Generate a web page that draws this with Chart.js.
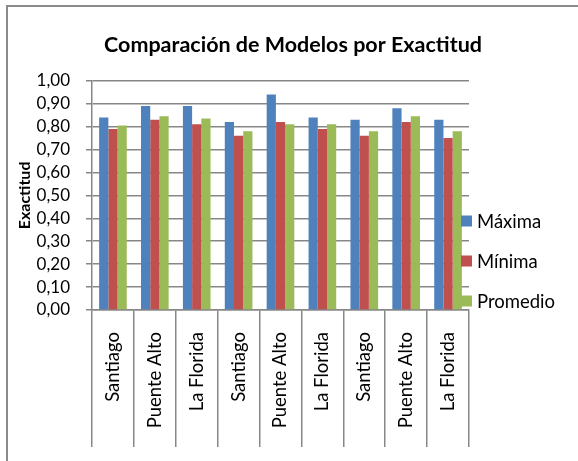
<!DOCTYPE html>
<html>
<head>
<meta charset="utf-8">
<script src="https://cdn.jsdelivr.net/npm/chart.js@4/dist/chart.umd.min.js"></script>
<style>
  html, body { margin: 0; padding: 0; background: #fff; overflow: hidden; }
  #wrap { position: relative; width: 578px; height: 461px; }
  #frame { position: absolute; left: 6px; top: 5px; width: 600px; height: 500px;
           border-top: 2px solid #8a8a8a; border-left: 2px solid #8a8a8a; pointer-events: none; }
</style>
</head>
<body>
<div id="wrap">
  <canvas id="c" width="578" height="461"></canvas>
  <div id="frame"></div>
</div>
<script>
const categories = ['Santiago', 'Puente Alto', 'La Florida', 'Santiago', 'Puente Alto', 'La Florida', 'Santiago', 'Puente Alto', 'La Florida'];
const maxima   = [0.84, 0.89, 0.89, 0.82, 0.94, 0.84, 0.83, 0.88, 0.83];
const minima   = [0.79, 0.83, 0.81, 0.76, 0.82, 0.79, 0.76, 0.82, 0.75];
const promedio = [0.805, 0.845, 0.835, 0.78, 0.81, 0.81, 0.78, 0.845, 0.78];
const seriesNames = ['Máxima', 'Mínima', 'Promedio'];
const yTickLabels = ['0,00', '0,10', '0,20', '0,30', '0,40', '0,50', '0,60', '0,70', '0,80', '0,90', '1,00'];

const FONT = 'Lato';
const GRID = '#878787';

const sideLegend = {
  id: 'sideLegend',
  afterDraw(chart) {
    const ctx = chart.ctx;
    const ys = [221, 261, 301];
    ctx.save();
    ctx.font = '18.5px ' + FONT;
    ctx.textBaseline = 'middle';
    ctx.textAlign = 'left';
    chart.data.datasets.forEach((ds, i) => {
      ctx.fillStyle = ds.backgroundColor;
      ctx.fillRect(461, ys[i] - 5.5, 11, 11);
      ctx.fillStyle = '#000';
      ctx.fillText(ds.label, 477, ys[i] + 1);
    });
    ctx.restore();
  }
};

new Chart(document.getElementById('c'), {
  type: 'bar',
  data: {
    labels: categories,
    datasets: [
      { label: seriesNames[0], data: maxima,   backgroundColor: '#4F81BD' },
      { label: seriesNames[1], data: minima,   backgroundColor: '#C0504D' },
      { label: seriesNames[2], data: promedio, backgroundColor: '#9BBB59' }
    ]
  },
  options: {
    responsive: false,
    animation: false,
    devicePixelRatio: 1,
    layout: { padding: { left: 8, right: 0, top: 0, bottom: 0 } },
    datasets: { bar: { categoryPercentage: 0.66, barPercentage: 1.0 } },
    plugins: {
      legend: { display: false },
      tooltip: { enabled: false },
      title: {
        display: true,
        text: 'Comparación de Modelos por Exactitud',
        color: '#000',
        font: { family: FONT, size: 21.5, weight: 'bold', lineHeight: 1.2 },
        padding: { top: 32, bottom: 23 }
      }
    },
    scales: {
      x: {
        offset: true,
        afterFit(scale) { scale.height = 151; },
        grid: { offset: true, drawOnChartArea: false, drawTicks: true, tickLength: 137, color: GRID, lineWidth: 1.5 },
        border: { display: true, color: GRID, width: 1.5 },
        ticks: {
          color: '#000', font: { family: FONT, size: 18.5 },
          minRotation: 90, maxRotation: 90, autoSkip: false, padding: -115
        }
      },
      y: {
        min: 0, max: 1,
        afterFit(scale) { scale.width = 84; },
        afterBuildTicks(scale) {
          scale.ticks = yTickLabels.map((t, i) => ({ value: i / 10 }));
        },
        grid: { color: GRID, lineWidth: 1.5, tickLength: 6, drawTicks: true },
        border: { display: true, color: GRID, width: 1.5 },
        ticks: {
          color: '#000', font: { family: FONT, size: 17 }, padding: 16, autoSkip: false,
          callback: (v, i) => yTickLabels[i]
        },
        title: {
          display: true, text: 'Exactitud', color: '#000',
          font: { family: FONT, size: 16, weight: 'bold', lineHeight: 1.2 },
          padding: { top: 7, bottom: 0 }
        }
      },
      yRight: {
        type: 'linear',
        position: 'right',
        display: true,
        afterFit(scale) { scale.width = 109; },
        grid: { display: false, drawTicks: false },
        border: { display: false },
        ticks: { display: false }
      }
    }
  },
  plugins: [sideLegend]
});
</script>
</body>
</html>
